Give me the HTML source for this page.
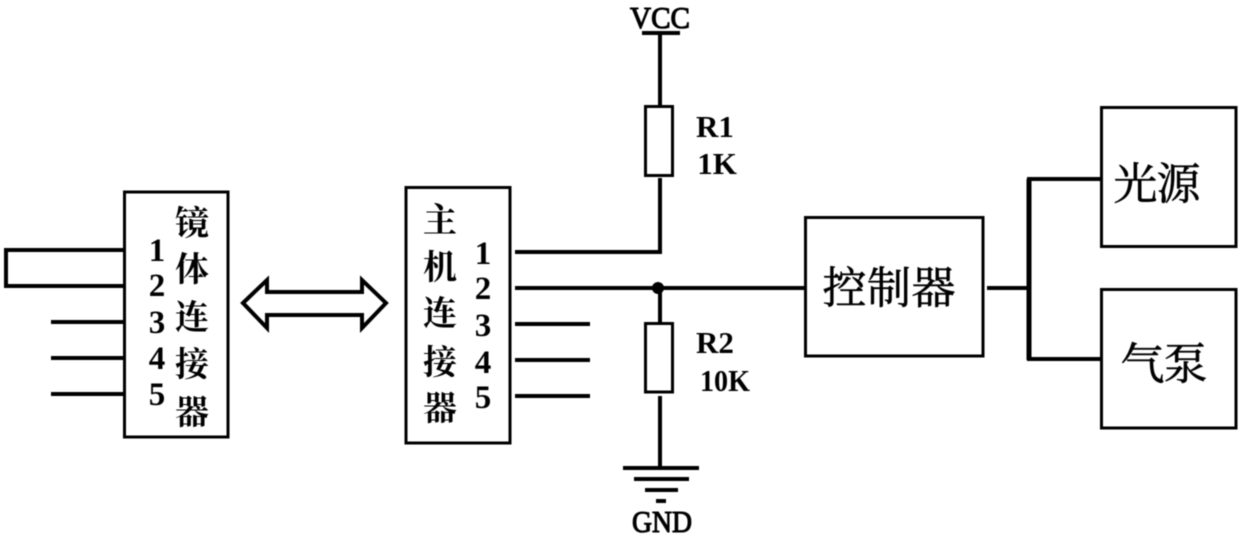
<!DOCTYPE html>
<html>
<head>
<meta charset="utf-8">
<style>
html,body{margin:0;padding:0;background:#fff;width:1240px;height:537px;overflow:hidden}
svg{display:block;filter:blur(0.4px)}
.c{font-family:"Liberation Serif","Noto Serif CJK SC",serif;fill:#000;text-anchor:middle;stroke:#000;stroke-width:.6px}
.s{font-family:"Liberation Serif","Noto Serif CJK SC",serif;fill:#000;text-anchor:middle;font-weight:700}
.n{font-family:"Liberation Serif",serif;fill:#000;text-anchor:middle;font-weight:700}
.v{font-family:"Liberation Serif",serif;fill:#000;text-anchor:middle;font-weight:400;stroke:#000;stroke-width:1.1px}
.l{fill:none;stroke:#000;stroke-width:4}
.b{fill:none;stroke:#000;stroke-width:3}
</style>
</head>
<body>
<svg width="1240" height="537" viewBox="0 0 1240 537" xmlns="http://www.w3.org/2000/svg">
<rect width="1240" height="537" fill="#fff"/>
<!-- left connector -->
<rect class="b" x="124.500" y="192" width="103.500" height="245"/>
<path class="l" d="M125 250H6V286H125M51 322H125M51 358H125M51 394H125"/>
<g class="n" font-size="33">
<text x="157" y="261">1</text><text x="157" y="296">2</text><text x="157" y="333">3</text><text x="157" y="369">4</text><text x="157" y="405">5</text>
</g>
<g class="s" font-size="34">
<text x="192" y="235">镜</text><text x="192" y="281">体</text><text x="192" y="329">连</text><text x="192" y="376">接</text><text x="192" y="424">器</text>
</g>
<!-- arrow -->
<path class="l" d="M243 303L267 280V292H362V280L386 303L362 328V315H267V328Z"/>
<!-- host connector -->
<rect class="b" x="406" y="187.500" width="104" height="255.500"/>
<g class="s" font-size="34">
<text x="440" y="232">主</text><text x="440" y="279">机</text><text x="440" y="325">连</text><text x="440" y="374">接</text><text x="440" y="420">器</text>
</g>
<g class="n" font-size="33">
<text x="483" y="264">1</text><text x="483" y="299">2</text><text x="483" y="336">3</text><text x="483" y="373">4</text><text x="483" y="408">5</text>
</g>
<path class="l" d="M515 252H660V178M515 288H805M515 324H590M515 360H590M515 396H590"/>
<circle cx="658" cy="288" r="6" fill="#000"/>
<!-- VCC, R1 -->
<text class="v" x="660" y="28" font-size="31" textLength="60" lengthAdjust="spacingAndGlyphs">VCC</text>
<path class="l" d="M642 33H680"/>
<path class="l" d="M660 33V106"/>
<rect class="b" x="645.500" y="106.500" width="27" height="69"/>
<text class="n" x="715" y="137" font-size="31">R1</text>
<text class="n" x="717" y="174" font-size="31">1K</text>
<!-- R2, GND -->
<path class="l" d="M660 288V323M660 396V468"/>
<rect class="b" x="645.500" y="323.500" width="27" height="68.500"/>
<text class="n" x="715" y="353" font-size="31">R2</text>
<text class="n" x="725" y="391" font-size="31" textLength="50" lengthAdjust="spacingAndGlyphs">10K</text>
<path class="l" d="M623 468H699M634 479H689M645 490H678"/>
<path class="l" d="M656 501H666"/>
<text class="v" x="662" y="532" font-size="31" textLength="60" lengthAdjust="spacingAndGlyphs">GND</text>
<!-- controller -->
<rect class="b" x="805.500" y="217.500" width="177.500" height="138.500"/>
<text class="c" x="889" y="303" font-size="44" textLength="133">控制器</text>
<!-- outputs -->
<path class="l" d="M987 288H1029"/>
<path d="M1029 179V360" fill="none" stroke="#000" stroke-width="5"/>
<path class="l" d="M1027 179H1101M1027 359H1101"/>
<rect class="b" x="1101.500" y="107.500" width="134.500" height="139"/>
<text class="c" x="1157" y="199" font-size="44" textLength="87">光源</text>
<rect class="b" x="1101.500" y="289.500" width="134.500" height="138.500"/>
<text class="c" x="1164" y="379" font-size="44" textLength="87">气泵</text>
</svg>
</body>
</html>
